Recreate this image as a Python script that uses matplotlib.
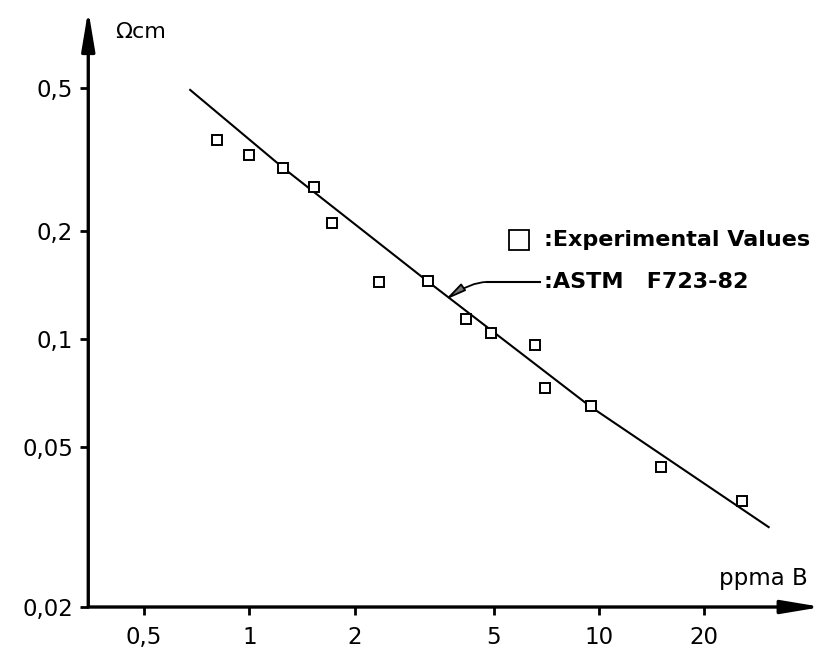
# -*- coding: utf-8 -*-
"""Resistivity of boron doped silicon vs. concentration (log-log)."""
import matplotlib
matplotlib.use("Agg")
import matplotlib.pyplot as plt

# experimental values (ppma B, Ohm cm)
exp_ppma = [0.81, 1.0, 1.25, 1.53, 1.72, 2.35, 3.24, 4.17, 4.92, 6.58, 7.0, 9.48, 15.1, 25.7]
exp_rho = [0.359, 0.325, 0.300, 0.265, 0.210, 0.144, 0.145, 0.114, 0.104, 0.096, 0.073, 0.065, 0.044, 0.0353]

# ASTM F723-82 curve
astm_ppma = [0.677, 1.25, 3.24, 9.48, 30.6]
astm_rho = [0.495, 0.300, 0.1447, 0.0647, 0.0299]

x_ticks = [0.5, 1, 2, 5, 10, 20]
x_labels = ["0,5", "1", "2", "5", "10", "20"]
y_ticks = [0.02, 0.05, 0.1, 0.2, 0.5]
y_labels = ["0,02", "0,05", "0,1", "0,2", "0,5"]

X_MIN, X_MAX = 0.346, 43.4
Y_MIN, Y_MAX = 0.0179, 0.827

plt.rcParams["font.family"] = ["DejaVu Sans"]

fig = plt.figure(figsize=(8.25, 6.52), dpi=100)
ax = fig.add_axes([0.107, 0.069, 0.889, 0.9157])
ax.set_xscale("log")
ax.set_yscale("log")
ax.set_xlim(X_MIN, X_MAX)
ax.set_ylim(Y_MIN, Y_MAX)

ax.plot(astm_ppma, astm_rho, color="k", lw=1.5, zorder=2)
ax.plot(exp_ppma, exp_rho, "s", ms=7.5, mfc="white", mec="k", mew=1.4, zorder=3)

for s in ax.spines.values():
    s.set_visible(False)

# axes drawn as arrows
arr = dict(arrowstyle="-|>,head_length=1.2,head_width=0.2", lw=2.4, color="k",
           shrinkA=0, shrinkB=0, mutation_scale=20)
ax.annotate("", xy=(0, 1), xytext=(0, 0), xycoords="axes fraction", arrowprops=arr)
ax.annotate("", xy=(1, 0), xytext=(0, 0), xycoords="axes fraction", arrowprops=arr)

# in the original the 0,02 mark sits on the x-axis
yt = [Y_MIN] + y_ticks[1:]
ax.set_xticks(x_ticks)
ax.set_xticklabels(x_labels)
ax.set_yticks(yt)
ax.set_yticklabels(y_labels)
ax.minorticks_off()
ax.tick_params(axis="both", direction="out", length=6, width=2, labelsize=16.5)
ax.tick_params(axis="x", pad=8)
ax.tick_params(axis="y", pad=5)

ax.text(0.036, 0.963, "\u03a9cm", transform=ax.transAxes, ha="left", va="center",
        fontsize=16)
ax.text(0.981, 0.047, "ppma B", transform=ax.transAxes, ha="right", va="center",
        fontsize=16.5)

# legend, hand placed like the original
ax.plot([0.587], [0.6147], "s", transform=ax.transAxes, ms=14, mfc="white", mec="k",
        mew=1.3, clip_on=False)
ax.text(0.622, 0.6147, ":Experimental Values", transform=ax.transAxes, ha="left",
        va="center", fontsize=16, fontweight="bold")
ax.plot([0.5436, 0.6159], [0.5444, 0.5444], transform=ax.transAxes, color="k", lw=1.5)
ax.text(0.622, 0.5444, ":ASTM   F723-82", transform=ax.transAxes, ha="left",
        va="center", fontsize=16, fontweight="bold")
ax.annotate("", xy=(0.4864, 0.5142), xytext=(0.5436, 0.5444), xycoords="axes fraction",
            arrowprops=dict(arrowstyle="-|>,head_length=0.9,head_width=0.18", lw=1.3,
                            color="k", fc="0.45", shrinkA=0, shrinkB=0,
                            mutation_scale=14,
                            connectionstyle="angle3,angleA=0,angleB=35"))

fig.savefig("out.png", dpi=100)
